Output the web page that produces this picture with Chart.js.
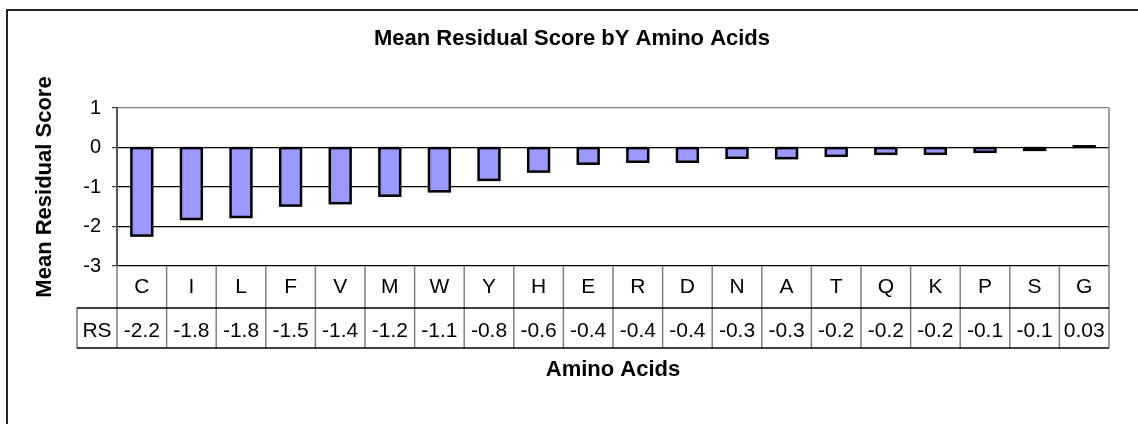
<!DOCTYPE html>
<html>
<head>
<meta charset="utf-8">
<title>Mean Residual Score bY Amino Acids</title>
<script src="https://cdn.jsdelivr.net/npm/chart.js@4/dist/chart.umd.min.js"></script>
<style>
  html, body { margin: 0; padding: 0; background: #fff; }
  #wrap { width: 1138px; height: 424px; }
</style>
</head>
<body>
<div id="wrap"><canvas id="chart" width="1138" height="424"></canvas></div>
<script>
// Amino acids, ordered from most negative to most positive mean residual score
const aminoAcids = ['C', 'I', 'L', 'F', 'V', 'M', 'W', 'Y', 'H', 'E', 'R', 'D', 'N', 'A', 'T', 'Q', 'K', 'P', 'S', 'G'];
// Mean residual score per amino acid (series "RS")
const residualScores = [-2.23, -1.81, -1.76, -1.47, -1.41, -1.22, -1.11, -0.82, -0.61, -0.41, -0.36, -0.36, -0.26, -0.27, -0.21, -0.16, -0.16, -0.11, -0.06, 0.03];
const seriesName = 'RS';
// Value axis ticks
const scoreTicks = [-3, -2, -1, 0, 1];

const FONT = "'Liberation Sans', Arial, Helvetica, sans-serif";
Chart.defaults.font.family = FONT;
Chart.defaults.color = '#000';

// Data-table cell text: one decimal, two for values close to zero
function formatScore(v) {
  return Math.abs(v) < 0.05 ? v.toFixed(2) : v.toFixed(1);
}

// Outlines every bar with a stroke centred on its edges
const barOutlinePlugin = {
  id: 'barOutline',
  afterDatasetsDraw(chart) {
    const ctx = chart.ctx;
    ctx.save();
    ctx.strokeStyle = '#000';
    ctx.lineWidth = 2.5;
    chart.getDatasetMeta(0).data.forEach(bar => {
      const { x, y, base, width } = bar.getProps(['x', 'y', 'base', 'width'], true);
      const top = Math.min(y, base);
      const h = Math.max(Math.abs(base - y), 0.5);
      ctx.strokeRect(x - width / 2, top, width, h);
    });
    ctx.restore();
  }
};

// Draws the white background, outer frame, chart title, plot border and the data table under the axis
const dataTablePlugin = {
  id: 'dataTable',
  beforeDraw(chart) {
    const ctx = chart.ctx;
    ctx.save();
    ctx.fillStyle = '#fff';
    ctx.fillRect(0, 0, chart.width, chart.height);
    ctx.restore();
  },
  afterDraw(chart) {
    const { ctx, chartArea: a, scales: { x } } = chart;
    const n = aminoAcids.length;
    const colW = (a.right - a.left) / n;
    const row1Top = a.bottom;
    const row1Bot = a.bottom + 42;
    const row2Bot = a.bottom + 82;
    const keyLeft = a.left - 40;

    ctx.save();

    // outer chart frame
    ctx.strokeStyle = '#222';
    ctx.lineWidth = 2;
    ctx.strokeRect(7, 10, chart.width + 20, chart.height + 20);

    // title
    ctx.fillStyle = '#000';
    ctx.font = `bold 22px ${FONT}`;
    ctx.textAlign = 'center';
    ctx.textBaseline = 'alphabetic';
    ctx.fillText('Mean Residual Score bY Amino Acids', 572, 45);

    // plot border (right side) and table cell dividers
    ctx.strokeStyle = '#808080';
    ctx.lineWidth = 1.5;
    ctx.beginPath();
    ctx.moveTo(a.right, a.top);
    ctx.lineTo(a.right, row1Top);
    for (let i = 0; i <= n; i++) {
      const xx = a.left + i * colW;
      ctx.moveTo(xx, row1Top);
      ctx.lineTo(xx, row2Bot);
    }
    ctx.moveTo(keyLeft, row1Bot);
    ctx.lineTo(keyLeft, row2Bot);
    ctx.stroke();

    // table row rules
    ctx.strokeStyle = '#000';
    ctx.lineWidth = 1.5;
    ctx.beginPath();
    ctx.moveTo(keyLeft, row1Bot);
    ctx.lineTo(a.right, row1Bot);
    ctx.moveTo(keyLeft, row2Bot);
    ctx.lineTo(a.right, row2Bot);
    ctx.stroke();

    // table text
    ctx.fillStyle = '#000';
    ctx.font = `21px ${FONT}`;
    ctx.textAlign = 'center';
    ctx.textBaseline = 'alphabetic';
    aminoAcids.forEach((aa, i) => {
      const cx = x.getPixelForValue(i);
      ctx.fillText(aa, cx, row1Top + 27);
      ctx.fillText(formatScore(residualScores[i]), cx, row1Bot + 29);
    });
    ctx.fillText(seriesName, (keyLeft + a.left) / 2, row1Bot + 29);

    ctx.restore();
  }
};

new Chart(document.getElementById('chart'), {
  type: 'bar',
  data: {
    labels: aminoAcids,
    datasets: [{
      label: seriesName,
      data: residualScores,
      backgroundColor: '#9999FF',
      borderWidth: 0,
      barPercentage: 0.42,
      categoryPercentage: 1
    }]
  },
  options: {
    responsive: false,
    animation: false,
    devicePixelRatio: 1,
    layout: { padding: { left: 0, right: 29, top: 108, bottom: 0 } },
    plugins: {
      legend: { display: false },
      tooltip: { enabled: false },
      title: { display: false }
    },
    scales: {
      x: {
        ticks: { display: false },
        grid: { display: false },
        border: { display: false },
        title: {
          display: true,
          text: 'Amino Acids',
          color: '#000',
          font: { size: 22, weight: 'bold' },
          padding: { top: 0, bottom: 41 }
        },
        afterFit(scale) { scale.height = 158; }
      },
      y: {
        min: scoreTicks[0],
        max: scoreTicks[scoreTicks.length - 1],
        afterBuildTicks(scale) { scale.ticks = scoreTicks.map(v => ({ value: v })); },
        ticks: { font: { size: 20 }, color: '#000', padding: 11 },
        grid: {
          color: c => (c.tick && c.tick.value === scoreTicks[scoreTicks.length - 1]) ? '#808080' : '#000',
          lineWidth: 1.2,
          tickLength: 5,
          tickColor: '#333'
        },
        border: { color: '#555', width: 2 },
        title: {
          display: true,
          text: 'Mean Residual Score',
          color: '#000',
          font: { size: 22, weight: 'bold' },
          padding: { top: 32, bottom: 0 }
        },
        afterFit(scale) { scale.width = 117; }
      }
    }
  },
  plugins: [barOutlinePlugin, dataTablePlugin]
});
</script>
</body>
</html>
